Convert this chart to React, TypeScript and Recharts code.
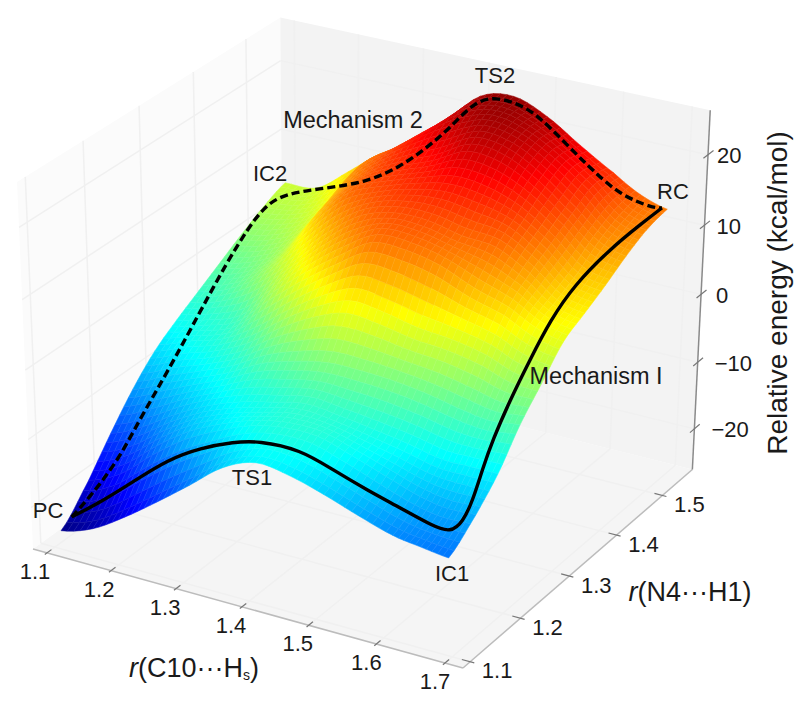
import React from 'react';
import { ComposedChart, Scatter, XAxis, YAxis } from 'recharts';

// ---- values ----
const xGrid = [1.12, 1.17, 1.22, 1.27, 1.32, 1.37, 1.42, 1.47, 1.52, 1.57, 1.62, 1.66, 1.7];
const yGrid = [1.09, 1.142, 1.184, 1.226, 1.268, 1.31, 1.352, 1.394, 1.436, 1.478, 1.522];
const energyY110 = [-22.6, -21, -18, -14.5, -10.8, -7, -5, -5.6, -7, -8.7, -10.2, -10.8, -11.3];
const energyY114 = [-18.2, -16, -12, -8.5, -6, -4, -3, -3, -4.5, -6.2, -7.8, -8.5, -8.3];
const energyY118 = [-13.7, -11.5, -8.5, -6, -4.2, -3, -2, -2.5, -3.2, -4, -5, -5, -5];
const energyY123 = [-9.6, -7.5, -5.5, -3.5, -1, 0.5, 1.5, 1.5, 1.2, 0.5, -0.5, -1, -0.5];
const energyY127 = [-6.3, -4.5, -3, -0.5, 3, 6, 8, 7.5, 6.5, 6, 5, 3.5, 3];
const energyY131 = [-4, -2.8, -1, 3.5, 7.5, 11, 14, 14, 13, 11, 9.5, 7.5, 6.5];
const energyY135 = [-2, -0.5, 2.5, 6.5, 11, 14.5, 16, 16, 15, 14.5, 12, 9.2, 8.2];
const energyY139 = [0, 1.2, 4, 10, 14.5, 16.5, 18, 19, 18.5, 17, 14, 10.8, 9.9];
const energyY144 = [2, 3, 5.5, 11.5, 15.5, 18, 20, 22.5, 22, 19.5, 16, 13, 11.8];
const energyY148 = [3.8, 4.5, 7, 13, 16.5, 20, 23, 24.5, 23.5, 21, 17.8, 14.5, 13.3];
const energyY152 = [5.2, 5.5, 9, 12.7, 15.2, 19.5, 24, 25, 23.2, 20.2, 17.4, 15.2, 14];
const energyRows = [energyY110, energyY114, energyY118, energyY123, energyY127, energyY131, energyY135, energyY139, energyY144, energyY148, energyY152];

const mech1X = [1.117, 1.156, 1.204, 1.254, 1.305, 1.355, 1.392, 1.454, 1.502, 1.552, 1.6, 1.648, 1.671, 1.68, 1.68, 1.673, 1.672, 1.684, 1.684, 1.67, 1.666, 1.679, 1.692, 1.696];
const mech1Y = [1.113, 1.12, 1.125, 1.13, 1.13, 1.13, 1.13, 1.13, 1.13, 1.13, 1.13, 1.13, 1.132, 1.144, 1.163, 1.19, 1.211, 1.227, 1.265, 1.325, 1.379, 1.432, 1.475, 1.516];
const mech1Z = [-22, -19.3, -15.3, -11.1, -8.1, -6, -4.9, -4.6, -6.3, -7.9, -9.2, -10.6, -11, -10, -8, -5.5, -2.5, 2.5, 6, 8, 10, 12.5, 14, 14.4];

const mech2X = [1.117, 1.133, 1.149, 1.151, 1.157, 1.154, 1.14, 1.14, 1.131, 1.124, 1.134, 1.223, 1.328, 1.37, 1.392, 1.409, 1.423, 1.447, 1.491, 1.532, 1.578, 1.603, 1.649, 1.689, 1.696];
const mech2Y = [1.113, 1.116, 1.16, 1.2, 1.238, 1.281, 1.335, 1.382, 1.433, 1.473, 1.5, 1.475, 1.418, 1.428, 1.452, 1.476, 1.503, 1.514, 1.521, 1.511, 1.503, 1.501, 1.494, 1.507, 1.516];
const mech2Z = [-22, -20, -16, -12, -8, -5, -3, 1, 3, 4, 5, 9, 15, 17.5, 19.5, 21.5, 24, 25, 24, 22.5, 20, 18.5, 16.3, 14.7, 14.4];

const xTicks = [1.1, 1.2, 1.3, 1.4, 1.5, 1.6, 1.7];
const yTicks = [1.1, 1.2, 1.3, 1.4, 1.5];
const zTicks = [-20, -10, 0, 10, 20];
const zTickText = ['\u221220', '\u221210', '0', '10', '20'];

const noteText = ['TS2', 'Mechanism 2', 'IC2', 'RC', 'PC', 'TS1', 'IC1', 'Mechanism I'];
const noteSx = [495, 353, 270, 673, 48, 252, 452, 596];
const noteSy = [75, 120, 173, 191, 510, 477, 573, 376];

// ---- the 3-D view of the box ----
const X0 = 1.078, XS = 0.648, Y0 = 1.086, YS = 0.481, Z0 = -26.2, ZS = 52.4;
const X1 = X0 + XS, Y1 = Y0 + YS, Z1 = Z0 + ZS;
const depth = (x: number, y: number, z: number) =>
  1 - 0.0429 * (x - X0) / XS + 0.0743 * (y - Y0) / YS - 0.0496 * (z - Z0) / ZS;
const project = (x: number, y: number, z: number) => {
  const X = (x - X0) / XS, Y = (y - Y0) / YS, Z = (z - Z0) / ZS;
  const w = depth(x, y, z);
  return { sx: (33 + 410.1 * X + 271 * Y - 16.8 * Z) / w, sy: (549 + 90.3 * X - 155 * Y - 376 * Z) / w };
};

const jetRgb = (c: number) => {
  const t = Math.max(0, Math.min(1, c));
  const ch = (o: number) => 255 * Math.max(0, Math.min(1, 1.5 - Math.abs(4 * t - o)));
  return [ch(3), ch(2), ch(1)];
};
const rgb = (v: number[], mix = 0) =>
  `rgb(${v.map((n) => Math.round(n + (255 - n) * mix)).join(',')})`;
const zRgb = (z: number) => jetRgb((z + 23) / 49);

const cr = (a: number, b: number, c: number, d: number, t: number) =>
  0.5 * (2 * b + (c - a) * t + (2 * a - 5 * b + 4 * c - d) * t * t + (3 * b - a - 3 * c + d) * t * t * t);
const clampI = (i: number, n: number) => Math.max(0, Math.min(n - 1, i));
const surfaceZ = (u: number, v: number) => {
  const i = Math.min(Math.floor(u), xGrid.length - 2), j = Math.min(Math.floor(v), yGrid.length - 2);
  const tu = u - i, tv = v - j;
  const col = (ii: number) => {
    const k = clampI(ii, xGrid.length);
    const r = (jj: number) => energyRows[clampI(jj, yGrid.length)][k];
    return cr(r(j - 1), r(j), r(j + 1), r(j + 2), tv);
  };
  return cr(col(i - 1), col(i), col(i + 1), col(i + 2), tu);
};
const at = (arr: number[], u: number) => {
  const i = Math.min(Math.floor(u), arr.length - 2);
  return arr[i] + (arr[i + 1] - arr[i]) * (u - i);
};

type Poly = { sx: number; sy: number; offs: number[][]; fill: string; stroke: string; w: number; sw: number };
const makePoly = (pts: number[][], fill: string, stroke = fill, sw = 0.6): Poly => {
  const p = pts.map(([x, y, z]) => project(x, y, z));
  const cx = p.reduce((s, q) => s + q.sx, 0) / p.length;
  const cy = p.reduce((s, q) => s + q.sy, 0) / p.length;
  const w = pts.reduce((s, [x, y, z]) => s + depth(x, y, z), 0) / pts.length;
  return { sx: cx, sy: cy, offs: p.map((q) => [q.sx - cx, q.sy - cy]), fill, stroke, w, sw };
};

const SUB = 5;
const buildSurface = () => {
  const out: Poly[] = [];
  const nu = (xGrid.length - 1) * SUB, nv = (yGrid.length - 1) * SUB;
  const node = (a: number, b: number) => {
    const u = a / SUB, v = b / SUB;
    return [at(xGrid, u), at(yGrid, v), surfaceZ(u, v)];
  };
  for (let a = 0; a < nu; a++) {
    for (let b = 0; b < nv; b++) {
      const c = [node(a, b), node(a + 1, b), node(a + 1, b + 1), node(a, b + 1)];
      const z = (c[0][2] + c[1][2] + c[2][2] + c[3][2]) / 4;
      const col = zRgb(z);
      out.push(makePoly(c, rgb(col), rgb(col, 0.06), 0.55));
    }
  }
  return out.sort((p, q) => q.w - p.w);
};
const surfaceCells = buildSurface();

const panes: Poly[] = [
  makePoly([[X0, Y0, Z0], [X1, Y0, Z0], [X1, Y1, Z0], [X0, Y1, Z0]], '#f5f5f5', 'none', 0),
  makePoly([[X0, Y0, Z0], [X0, Y1, Z0], [X0, Y1, Z1], [X0, Y0, Z1]], '#fbfbfb', 'none', 0),
  makePoly([[X0, Y1, Z0], [X1, Y1, Z0], [X1, Y1, Z1], [X0, Y1, Z1]], '#f3f3f3', 'none', 0),
];

const seg = (a: number[], b: number[]) => [project(a[0], a[1], a[2]), project(b[0], b[1], b[2])];
const gridLines = [
  ...xTicks.flatMap((t) => [seg([t, Y0, Z0], [t, Y1, Z0]), seg([t, Y1, Z0], [t, Y1, Z1])]),
  ...yTicks.flatMap((t) => [seg([X0, t, Z0], [X1, t, Z0]), seg([X0, t, Z0], [X0, t, Z1])]),
  ...zTicks.flatMap((t) => [seg([X0, Y0, t], [X0, Y1, t]), seg([X0, Y1, t], [X1, Y1, t])]),
];
const axisLines = [
  { d: seg([X0, Y0, Z0], [X1, Y0, Z0]), c: '#bcbcbc' },
  { d: seg([X1, Y0, Z0], [X1, Y1, Z0]), c: '#bcbcbc' },
  { d: seg([X1, Y1, Z0], [X1, Y1, Z1]), c: '#8a8a8a' },
];
const tickMarks = [
  ...xTicks.map((t) => seg([t, Y0 - 0.004, Z0], [t, Y0 + 0.008, Z0])),
  ...yTicks.map((t) => seg([X1 - 0.012, t, Z0], [X1 + 0.006, t, Z0])),
  ...zTicks.map((t) => seg([X1, Y1 - 0.01, t], [X1, Y1 + 0.012, t])),
];

const mech1 = mech1X.map((x, i) => project(x, mech1Y[i], mech1Z[i]));
const mech2 = mech2X.map((x, i) => project(x, mech2Y[i], mech2Z[i]));

const FONT = '"Liberation Sans", Arial, sans-serif';
type Lab = { sx: number; sy: number; text: string; size: number; anchor?: string };
const xLabelDx = [-12, -12, -11, -11, -11, -10, -10];
const xLabels: Lab[] = xTicks.map((t, i) => {
  const p = project(t, Y0, Z0);
  return { sx: p.sx + xLabelDx[i], sy: p.sy + 18.5, text: t.toFixed(1), size: 22 };
});
const yLabels: Lab[] = yTicks.map((t) => {
  const p = project(X1, t, Z0);
  return { sx: p.sx + 27, sy: p.sy + 9, text: t.toFixed(1), size: 22 };
});
const zLabelDx = [17, 17, 15, 12, 9];
const zLabels: Lab[] = zTicks.map((t, i) => {
  const p = project(X1, Y1, t);
  return { sx: p.sx + zLabelDx[i], sy: p.sy + 1, text: zTickText[i], size: 22, anchor: 'start' };
});
const noteSizes = [22, 23.5, 22, 22, 22, 22, 22, 23.5];
const notes: Lab[] = noteText.map((text, i) => ({ sx: noteSx[i], sy: noteSy[i], text, size: noteSizes[i] }));
const allLabels = [...xLabels, ...yLabels, ...zLabels, ...notes];

const axisTitleSpots = [{ sx: 194, sy: 668, which: 0 }, { sx: 690, sy: 592, which: 1 }, { sx: 777, sy: 293, which: 2 }];

const noMark = () => null;
const polyShape = (props: any) => {
  const { cx, cy, payload } = props;
  const pts = payload.offs.map((o: number[]) => `${cx + o[0]},${cy + o[1]}`).join(' ');
  return <polygon points={pts} fill={payload.fill} stroke={payload.stroke} strokeWidth={payload.sw} />;
};
const labelShape = (props: any) => {
  const { cx, cy, payload } = props;
  return (
    <text x={cx} y={cy} textAnchor={payload.anchor || 'middle'} dominantBaseline="central" fontFamily={FONT} fontSize={payload.size} fill="#1a1a1a">
      {payload.text}
    </text>
  );
};
const titleShape = (props: any) => {
  const { cx, cy, payload } = props;
  const common = { fontFamily: FONT, fontSize: 27, fill: '#1a1a1a', textAnchor: 'middle' as const, dominantBaseline: 'central' as const };
  if (payload.which === 2) {
    return <text {...common} fontSize={28} x={cx} y={cy} transform={`rotate(-90 ${cx} ${cy})`}>Relative energy (kcal/mol)</text>;
  }
  if (payload.which === 0) {
    return (
      <text {...common} x={cx} y={cy}>
        <tspan fontStyle="italic">r</tspan>(C10{'\u00b7\u00b7\u00b7'}H<tspan fontSize={14} dy={7}>s</tspan><tspan dy={-7}>)</tspan>
      </text>
    );
  }
  return (
    <text {...common} x={cx} y={cy}>
      <tspan fontStyle="italic">r</tspan>(N4{'\u00b7\u00b7\u00b7'}H1)
    </text>
  );
};

export default function App() {
  return (
    <div style={{ position: 'absolute', left: 0, top: 0, width: 800, height: 702, background: '#fff' }}>
      <ComposedChart width={800} height={702} margin={{ top: 0, right: 0, bottom: 0, left: 0 }}>
        <XAxis type="number" dataKey="sx" domain={[0, 800]} hide allowDataOverflow />
        <YAxis type="number" dataKey="sy" domain={[0, 702]} reversed hide allowDataOverflow />
        <Scatter data={panes} shape={polyShape} isAnimationActive={false} />
        {gridLines.map((d, i) => (
          <Scatter key={`g${i}`} data={d} shape={noMark} line={{ stroke: '#f0f0f0', strokeWidth: 1.5 }} isAnimationActive={false} />
        ))}
        {axisLines.map((a, i) => (
          <Scatter key={`a${i}`} data={a.d} shape={noMark} line={{ stroke: a.c, strokeWidth: 1.5 }} isAnimationActive={false} />
        ))}
        {tickMarks.map((d, i) => (
          <Scatter key={`t${i}`} data={d} shape={noMark} line={{ stroke: '#777777', strokeWidth: 1.2 }} isAnimationActive={false} />
        ))}
        <Scatter data={surfaceCells} shape={polyShape} isAnimationActive={false} />
        <Scatter data={mech2} shape={noMark} lineJointType="basis" line={{ stroke: '#000', strokeWidth: 3.4, strokeDasharray: '8 4' }} isAnimationActive={false} />
        <Scatter data={mech1} shape={noMark} lineJointType="basis" line={{ stroke: '#000', strokeWidth: 3.4 }} isAnimationActive={false} />
        <Scatter data={allLabels} shape={labelShape} isAnimationActive={false} />
        <Scatter data={axisTitleSpots} shape={titleShape} isAnimationActive={false} />
      </ComposedChart>
    </div>
  );
}
